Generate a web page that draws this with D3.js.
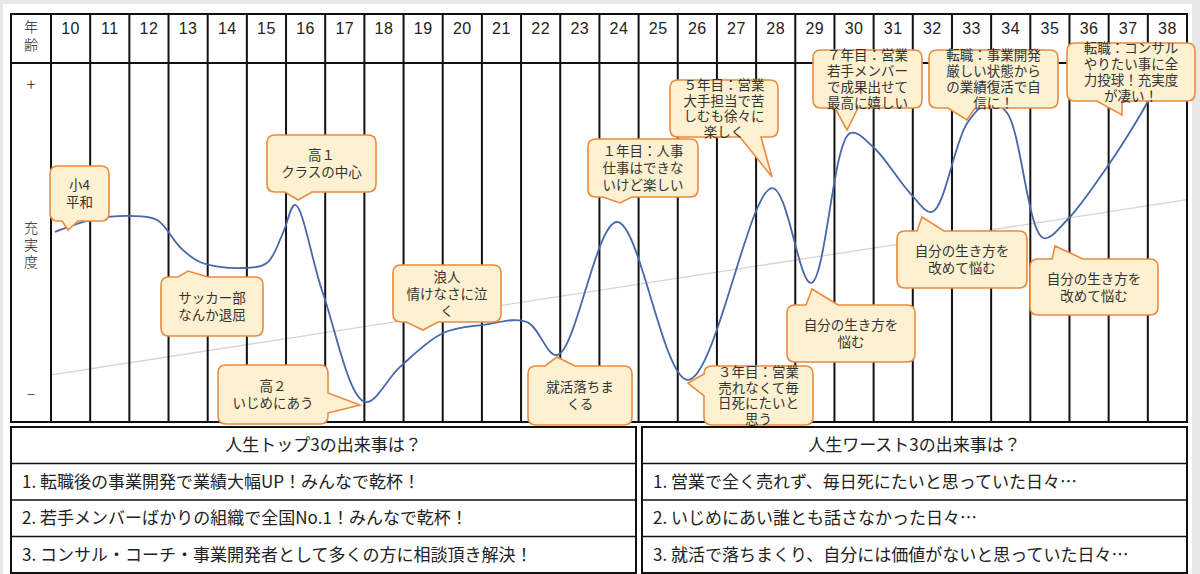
<!DOCTYPE html>
<html>
<head>
<meta charset="utf-8">
<script src="https://cdn.jsdelivr.net/npm/d3@7"></script>
<style>
  body { margin: 0; background: #e8e8e8; }
  svg { display: block; font-family: "Noto Sans CJK JP", sans-serif; }
</style>
</head>
<body>
<svg id="chart" width="1200" height="574"></svg>
<script>
// ages shown in the header row
const ages = d3.range(10, 39);

// life satisfaction curve (age, value from -10 "−" to +10 "+")
const curveAges   = [9.6, 10.5, 11.52, 12.21, 12.79, 13.3, 14.33, 15.01, 15.42, 15.73, 16.44, 17.52, 18.41, 19.51, 20.53, 21.65, 22.42, 23.95, 25.76, 27.91, 28.9, 29.9, 30.49, 31.43, 31.99, 32.89, 33.47, 33.91, 34.83, 35.44, 36.46, 37.23, 37.94];
const curveValues = [0.52, 1.29, 1.55, 1.29, -0.45, -1.42, -1.81, -1.48, 0.45, 2.26, -3.42, -10.45, -8.19, -6.0, -5.48, -5.29, -7.42, 1.16, -9.03, 3.35, -2.77, 6.9, 6.0, 3.03, 1.81, 7.55, 8.9, 8.19, 0.13, 1.29, 4.71, 7.74, 10.97];

// faint trend line
const trendAges = [9.5, 38.5];
const trendValues = [-8.7, 2.6];

// callout texts
const calloutTexts = [
  ["小4", "平和"],
  ["高１", "クラスの中心"],
  ["サッカー部", "なんか退屈"],
  ["高２", "いじめにあう"],
  ["浪人", "情けなさに泣", "く"],
  ["就活落ちま", "くる"],
  ["１年目：人事", "仕事はできな", "いけど楽しい"],
  ["５年目：営業", "大手担当で苦", "しむも徐々に", "楽しく"],
  ["３年目：営業", "売れなくて毎", "日死にたいと", "思う"],
  ["自分の生き方を", "悩む"],
  ["７年目：営業", "若手メンバー", "で成果出せて", "最高に嬉しい"],
  ["転職：事業開発", "厳しい状態から", "の業績復活で自", "信に！"],
  ["転職：コンサル", "やりたい事に全", "力投球！充実度", "が凄い！"],
  ["自分の生き方を", "改めて悩む"],
  ["自分の生き方を", "改めて悩む"]
];

const topTitle = "人生トップ3の出来事は？";
const topEvents = [
  "1. 転職後の事業開発で業績大幅UP！みんなで乾杯！",
  "2. 若手メンバーばかりの組織で全国No.1！みんなで乾杯！",
  "3. コンサル・コーチ・事業開発者として多くの方に相談頂き解決！"
];
const worstTitle = "人生ワースト3の出来事は？";
const worstEvents = [
  "1. 営業で全く売れず、毎日死にたいと思っていた日々…",
  "2. いじめにあい誰とも話さなかった日々…",
  "3. 就活で落ちまくり、自分には価値がないと思っていた日々…"
];

// callout box layout: box [x, y, w, h], pointer side, base [from, to], tip [x, y]
const calloutLayout = [
  { box: [50, 166, 59, 55],   side: "bottom", base: [62, 78],   tip: [68, 230] },
  { box: [267, 135, 109, 57], side: "bottom", base: [285, 312], tip: [298, 200] },
  { box: [161, 277, 102, 59], side: "top",    base: [178, 208], tip: [188, 271] },
  { box: [218, 365, 110, 59], side: "right",  base: [393, 413], tip: [360, 405] },
  { box: [393, 265, 108, 57], side: "bottom", base: [406, 438], tip: [423, 330] },
  { box: [528, 366, 104, 59], side: "top",    base: [545, 575], tip: [557, 357] },
  { box: [588, 139, 110, 58], side: "bottom", base: [603, 632], tip: [620, 203] },
  { box: [670, 80, 108, 57],  side: "bottom", base: [740, 761], tip: [772, 177] },
  { box: [704, 366, 109, 59], side: "left",   base: [374, 396], tip: [688, 383] },
  { box: [787, 305, 128, 57], side: "top",    base: [806, 838], tip: [812, 289] },
  { box: [813, 50, 109, 58],  side: "bottom", base: [835, 858], tip: [847, 130] },
  { box: [929, 50, 129, 58],  side: "bottom", base: [948, 975], tip: [967, 120] },
  { box: [1067, 43, 128, 58], side: "bottom", base: [1097, 1122], tip: [1122, 115] },
  { box: [897, 231, 130, 57], side: "top",    base: [917, 944], tip: [922, 217] },
  { box: [1030, 259, 128, 56], side: "top",   base: [1052, 1083], tip: [1055, 246] }
];

const svg = d3.select("#chart");

const frameL = 11, gridL = 51, gridR = 1187, gridT = 14, headB = 63, gridB = 422;

const x = d3.scaleLinear().domain([9.5, 38.5]).range([gridL, gridR]);
const y = d3.scaleLinear().domain([-10, 10]).range([395, 85]);

// white sheet
svg.append("rect")
  .attr("x", 3).attr("y", 4).attr("width", 1189).attr("height", 570)
  .attr("fill", "#fff");

// trend line
svg.append("line")
  .attr("x1", x(trendAges[0])).attr("y1", y(trendValues[0]))
  .attr("x2", x(trendAges[1])).attr("y2", y(trendValues[1]))
  .attr("stroke", "#d4d4d4").attr("stroke-width", 1.3);

// grid
const grid = svg.append("g").attr("stroke", "#111").attr("stroke-width", 2);
grid.selectAll("line.col")
  .data(ages.map(a => a - 0.5).concat([38.5]))
  .enter().append("line")
  .attr("class", "col")
  .attr("x1", d => x(d)).attr("x2", d => x(d))
  .attr("y1", gridT).attr("y2", gridB);
grid.append("rect")
  .attr("x", frameL).attr("y", gridT)
  .attr("width", gridR - frameL).attr("height", gridB - gridT)
  .attr("fill", "none");
grid.append("line")
  .attr("x1", frameL).attr("x2", gridR)
  .attr("y1", headB).attr("y2", headB);

// header numbers
svg.selectAll("text.age")
  .data(ages)
  .enter().append("text")
  .attr("class", "age")
  .attr("x", d => x(d))
  .attr("y", 34)
  .attr("text-anchor", "middle")
  .attr("font-family", "'Liberation Sans', Arial, sans-serif")
  .attr("font-size", 16)
  .attr("letter-spacing", 0.5)
  .attr("fill", "#222")
  .text(d => d);

// left labels
const labelX = (frameL + gridL) / 2;
const leftLabels = [
  { t: "年", y: 32, s: 14 }, { t: "齢", y: 50, s: 14 },
  { t: "+", y: 91, s: 17 },
  { t: "充", y: 233, s: 14 }, { t: "実", y: 250, s: 14 }, { t: "度", y: 267, s: 14 },
  { t: "−", y: 400, s: 15 }
];
svg.selectAll("text.lab")
  .data(leftLabels)
  .enter().append("text")
  .attr("class", "lab")
  .attr("x", labelX).attr("y", d => d.y)
  .attr("text-anchor", "middle")
  .attr("font-size", d => d.s)
  .attr("font-weight", 300)
  .attr("fill", "#222")
  .text(d => d.t);

// curve
const line = d3.line()
  .x(d => x(d[0]))
  .y(d => y(d[1]))
  .curve(d3.curveCatmullRom.alpha(0.5));

svg.append("path")
  .datum(curveAges.map((a, i) => [a, curveValues[i]]))
  .attr("d", line)
  .attr("fill", "none")
  .attr("stroke", "#4668a8")
  .attr("stroke-width", 1.8);

// callouts
function calloutPath(l) {
  const [bx, by, bw, bh] = l.box;
  const x0 = bx, y0 = by, x1 = bx + bw, y1 = by + bh, r = 8;
  const [a, b] = l.base, [tx, ty] = l.tip;
  const p = d3.path();
  p.moveTo(x0 + r, y0);
  if (l.side === "top") { p.lineTo(a, y0); p.lineTo(tx, ty); p.lineTo(b, y0); }
  p.lineTo(x1 - r, y0);
  p.quadraticCurveTo(x1, y0, x1, y0 + r);
  if (l.side === "right") { p.lineTo(x1, a); p.lineTo(tx, ty); p.lineTo(x1, b); }
  p.lineTo(x1, y1 - r);
  p.quadraticCurveTo(x1, y1, x1 - r, y1);
  if (l.side === "bottom") { p.lineTo(b, y1); p.lineTo(tx, ty); p.lineTo(a, y1); }
  p.lineTo(x0 + r, y1);
  p.quadraticCurveTo(x0, y1, x0, y1 - r);
  if (l.side === "left") { p.lineTo(x0, b); p.lineTo(tx, ty); p.lineTo(x0, a); }
  p.lineTo(x0, y0 + r);
  p.quadraticCurveTo(x0, y0, x0 + r, y0);
  p.closePath();
  return p.toString();
}

const callouts = svg.selectAll("g.callout")
  .data(calloutTexts.map((t, i) => ({ lines: t, l: calloutLayout[i] })))
  .enter().append("g")
  .attr("class", "callout");

callouts.append("path")
  .attr("d", d => calloutPath(d.l))
  .attr("fill", "#fdf1d2")
  .attr("stroke", "#ec8a3e")
  .attr("stroke-width", 1.6);

callouts.each(function(d) {
  const [bx, by, bw, bh] = d.l.box;
  const n = d.lines.length;
  const lh = n === 4 ? 15.8 : 17;
  const cy = by + bh / 2;
  d3.select(this).selectAll("text")
    .data(d.lines)
    .enter().append("text")
    .attr("x", bx + bw / 2)
    .attr("y", (t, i) => cy + (i - (n - 1) / 2) * lh + 5)
    .attr("text-anchor", "middle")
    .attr("font-size", 13.5)
    .attr("fill", "#333")
    .text(t => t);
});

// bottom tables
function eventTable(x0, x1, title, rows) {
  const top = 427, rh = 36.5;
  const g = svg.append("g");
  g.append("rect")
    .attr("x", x0).attr("y", top)
    .attr("width", x1 - x0).attr("height", rh * 4)
    .attr("fill", "#fff").attr("stroke", "#111").attr("stroke-width", 2);
  g.selectAll("line")
    .data([1, 2, 3])
    .enter().append("line")
    .attr("x1", x0).attr("x2", x1)
    .attr("y1", d => top + d * rh).attr("y2", d => top + d * rh)
    .attr("stroke", "#111").attr("stroke-width", 1.6);
  g.append("text")
    .attr("x", (x0 + x1) / 2).attr("y", top + rh / 2 + 6)
    .attr("text-anchor", "middle")
    .attr("font-size", 17)
    .attr("fill", "#222")
    .text(title);
  g.selectAll("text.row")
    .data(rows)
    .enter().append("text")
    .attr("class", "row")
    .attr("x", x0 + 11)
    .attr("y", (d, i) => top + (i + 1.5) * rh + 6)
    .attr("font-size", 17)
    .attr("fill", "#222")
    .text(d => d);
}
eventTable(frameL, 636, topTitle, topEvents);
eventTable(642, gridR, worstTitle, worstEvents);
</script>
</body>
</html>
